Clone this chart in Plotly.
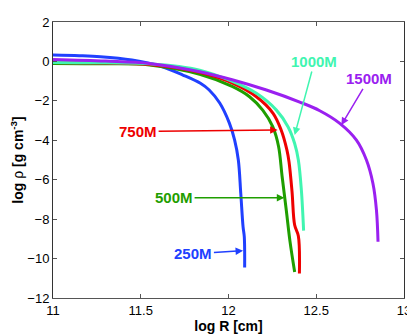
import plotly.graph_objects as go

# log R [cm] and log rho [g cm^-3]
r250 = [11.0, 11.15, 11.27, 11.45, 11.61, 11.74, 11.84, 11.89, 11.95, 12.005, 12.035, 12.056, 12.07, 12.083, 12.09, 12.092]
rho250 = [0.32, 0.29, 0.24, 0.07, -0.23, -0.69, -1.11, -1.45, -2.11, -3.13, -3.99, -5.0, -6.7, -8.39, -8.9, -10.45]

r500 = [11.0, 11.3, 11.55, 11.836, 12.024, 12.12, 12.195, 12.252, 12.285, 12.305, 12.33, 12.35, 12.377]
rho500 = [-0.1, -0.12, -0.18, -0.65, -1.28, -1.79, -2.47, -3.31, -4.3, -5.8, -7.6, -9.1, -10.68]

r750 = [11.0, 11.3, 11.55, 11.836, 12.026, 12.159, 12.254, 12.30, 12.333, 12.345, 12.362, 12.377, 12.398, 12.404]
rho750 = [-0.05, -0.08, -0.15, -0.55, -1.11, -1.79, -2.63, -3.48, -4.5, -5.1, -6.6, -8.3, -8.85, -10.76]

r1000 = [11.0, 11.3, 11.55, 11.836, 12.026, 12.159, 12.273, 12.339, 12.377, 12.398, 12.415, 12.428]
rho1000 = [-0.05, -0.07, -0.12, -0.44, -1.03, -1.62, -2.47, -3.31, -4.16, -5.0, -6.5, -8.58]

r1500 = [11.0, 11.3, 11.55, 11.836, 12.026, 12.216, 12.406, 12.52, 12.634, 12.729, 12.786, 12.823, 12.843, 12.852]
rho1500 = [0.1, 0.02, -0.1, -0.52, -0.94, -1.45, -2.06, -2.5, -3.14, -3.99, -5.0, -6.19, -7.54, -9.15]

labels = ["250M", "500M", "750M", "1000M", "1500M"]
colors = ["#2040ff", "#1f9e00", "#ee0000", "#40f5b0", "#9a20f0"]
# label position (tail) and arrow head
lab_x = [11.80, 11.69, 11.485, 12.49, 12.80]
lab_y = [-9.75, -6.92, -3.55, 0.0, -0.89]
head_x = [12.083, 12.318, 12.28, 12.377, 12.643]
head_y = [-9.6, -6.92, -3.48, -3.73, -3.23]

xticks = [11, 11.5, 12, 12.5, 13]
yticks = [-12, -10, -8, -6, -4, -2, 0, 2]

curves = [(r250, rho250), (r500, rho500), (r750, rho750), (r1000, rho1000), (r1500, rho1500)]

fig = go.Figure()
for (xs, ys), name, c in zip(curves, labels, colors):
    fig.add_trace(go.Scatter(x=xs, y=ys, mode="lines", name=name, cliponaxis=False,
                             line=dict(color=c, width=3, shape="spline", smoothing=1.0)))

for i in range(len(labels)):
    fig.add_annotation(x=head_x[i], y=head_y[i], ax=lab_x[i], ay=lab_y[i],
                       axref="x", ayref="y", xref="x", yref="y",
                       text="<b>" + labels[i] + "</b>", showarrow=True,
                       arrowhead=2, arrowsize=1, arrowwidth=1.5, arrowcolor=colors[i],
                       font=dict(size=15, color=colors[i]))

# page body adds an 8px offset; margins are shifted to compensate
fig.update_layout(
    width=415, height=334,
    margin=dict(l=45, r=19, t=14, b=44),
    paper_bgcolor="white", plot_bgcolor="white",
    showlegend=False,
    font=dict(family="Liberation Sans, Arial, sans-serif", size=13, color="black"),
)
fig.update_xaxes(range=[11, 13], tickvals=xticks, ticks="inside", ticklen=4, automargin=False,
                 ticklabeloverflow="allow",
                 showgrid=False, zeroline=False, showline=True, linecolor="#555",
                 linewidth=1, mirror="ticks", tickcolor="#555",
                 title=dict(text="<b>log R [cm]</b>", font=dict(size=14), standoff=4))
fig.update_yaxes(range=[-12, 2], tickvals=yticks, ticks="inside", ticklen=4, automargin=False,
                 ticklabeloverflow="allow",
                 showgrid=False, zeroline=False, showline=True, linecolor="#333",
                 linewidth=1, mirror="ticks", tickcolor="#555",
                 title=dict(text="<b>log </b>ρ<b> [g cm<sup>-3</sup>]</b>", font=dict(size=14), standoff=6))

fig.write_html("out.html")
